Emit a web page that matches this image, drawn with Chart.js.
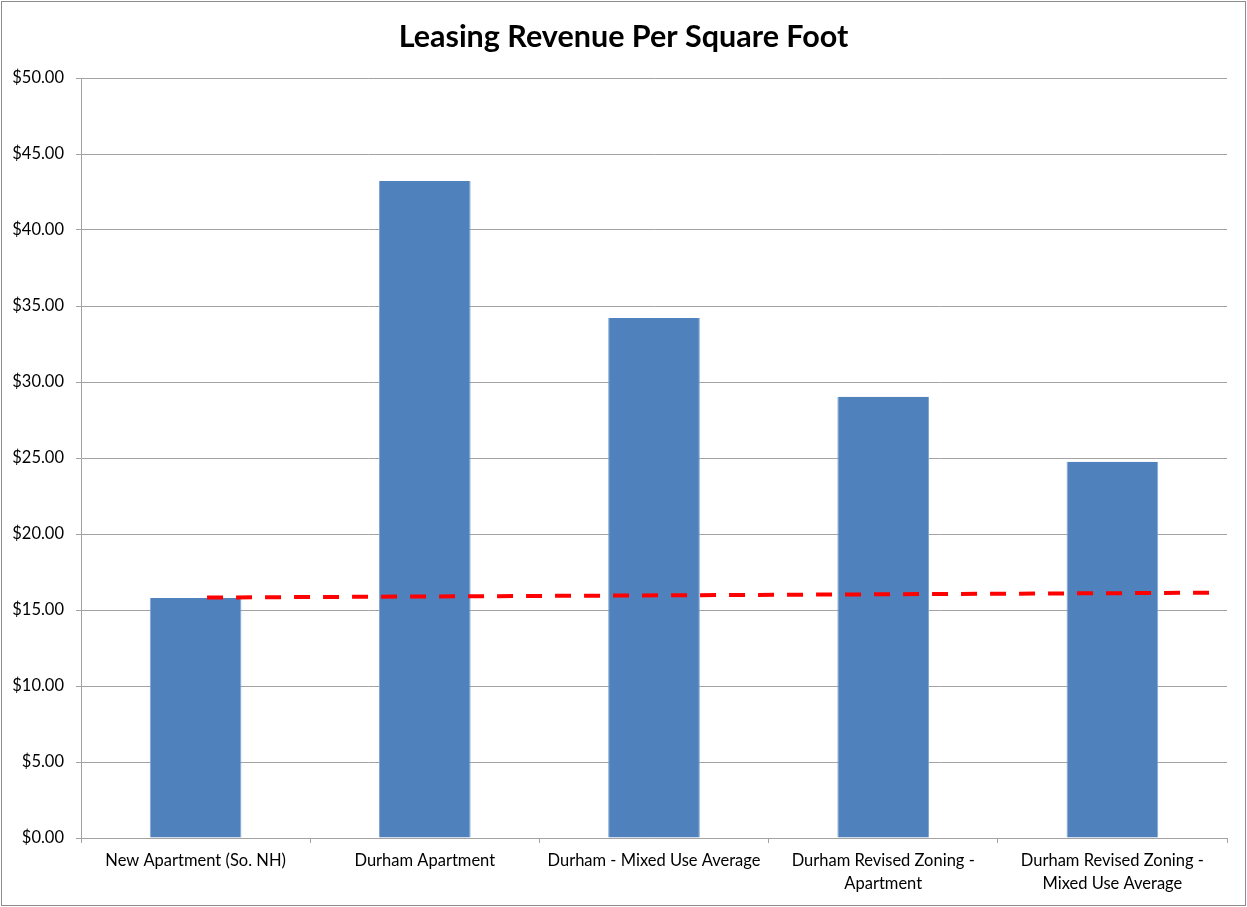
<!DOCTYPE html>
<html>
<head>
<meta charset="utf-8">
<script src="https://cdn.jsdelivr.net/npm/chart.js@4"></script>
<style>
  html, body { margin: 0; padding: 0; background: #fff; }
  #wrap { position: relative; width: 1247px; height: 907px; }
  #frame { position: absolute; left: 1px; top: 1px; width: 1243px; height: 903px; border: 1px solid #8c8c8c; pointer-events: none; }
</style>
</head>
<body>
<div id="wrap">
  <canvas id="chart" width="1247" height="907"></canvas>
  <div id="frame"></div>
</div>
<script>
const categories = [
    "New Apartment (So. NH)",
    "Durham Apartment",
    "Durham - Mixed Use Average",
    ["Durham Revised Zoning -", "Apartment"],
    ["Durham Revised Zoning -", "Mixed Use Average"]
];
const revenue = [15.79, 43.22, 34.21, 29.03, 24.76];

// dashed trend line, x in category units
const trendX = [0.05, 4.46];
const trendY = [15.82, 16.14];

const yTicks = [0, 5, 10, 15, 20, 25, 30, 35, 40, 45, 50];

const FONT = "Lato, 'Open Sans', sans-serif";
const GRID = "#a3a3a3";

new Chart(document.getElementById("chart"), {

    type: "bar",

    data: {
        labels: categories,
        datasets: [
            {
                type: "line",
                data: trendX.map((x, i) => ({ x: x, y: trendY[i] })),
                xAxisID: "xLine",
                borderColor: "#ff0000",
                borderWidth: 4,
                borderDash: [16, 13],
                borderCapStyle: "butt",
                pointRadius: 0,
                fill: false,
                order: 0
            },
            {
                type: "bar",
                data: revenue,
                xAxisID: "x",
                backgroundColor: "#4f81bd",
                borderColor: "#7fa6d4",
                borderWidth: { left: 1, right: 1, top: 0, bottom: 0 },
                barPercentage: 1,
                categoryPercentage: 0.4,
                grouped: false,
                order: 1
            }
        ]
    },

    options: {
        responsive: false,
        animation: false,
        layout: { padding: 0 },
        plugins: {
            legend: { display: false },
            tooltip: { enabled: false },
            title: {
                display: true,
                text: "Leasing Revenue Per Square Foot",
                color: "#000",
                font: { family: FONT, size: 30.5, weight: "bold", lineHeight: 1.2 },
                padding: { top: 19, bottom: 22.4 }
            }
        },
        scales: {
            x: {
                type: "category",
                offset: true,
                grid: {
                    offset: true,
                    drawOnChartArea: false,
                    drawTicks: true,
                    tickLength: 5,
                    color: GRID
                },
                border: { color: GRID, width: 1 },
                ticks: {
                    color: "#000",
                    maxRotation: 0,
                    autoSkip: false,
                    padding: 6.5,
                    font: { family: FONT, size: 16.5, lineHeight: 1.4 }
                },
                afterFit: s => { s.height = 69; }
            },
            xLine: {
                type: "linear",
                display: false,
                offset: false,
                min: -0.5,
                max: 4.5
            },
            y: {
                min: 0,
                max: 50,
                afterBuildTicks: s => { s.ticks = yTicks.map(v => ({ value: v })); },
                grid: { color: GRID, tickLength: 5 },
                border: { color: GRID, width: 1 },
                ticks: {
                    color: "#000",
                    padding: 12,
                    font: { family: FONT, size: 16.5 },
                    callback: v => "$" + Number(v).toFixed(2)
                },
                afterFit: s => { s.width = 81; }
            },
            // empty right margin so the title centres on the whole canvas
            yRight: {
                position: "right",
                display: true,
                grid: { display: false },
                border: { display: false },
                ticks: { display: false },
                afterFit: s => { s.width = 20; }
            }
        }
    }

});
</script>
</body>
</html>
